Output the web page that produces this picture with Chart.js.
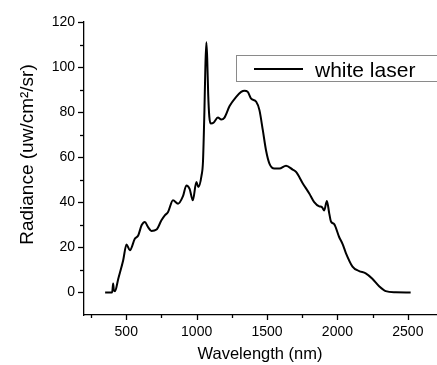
<!DOCTYPE html>
<html>
<head>
<meta charset="utf-8">
<script src="https://cdn.jsdelivr.net/npm/chart.js@4/dist/chart.umd.min.js"></script>
<style>
html,body{margin:0;padding:0;background:#fff;}
#wrap{width:437px;height:365px;position:relative;}
</style>
</head>
<body>
<div id="wrap"><canvas id="c" width="437" height="365"></canvas></div>
<script>
const wavelength = [350,400,407,412,420,443,478,502,526,561,585,609,632,655,679,715,750,774,797,832,868,903,927,950,973,998,1012,1035,1045,1055,1062,1069,1075,1082,1090,1100,1120,1151,1175,1198,1234,1281,1316,1340,1363,1387,1423,1446,1470,1493,1517,1552,1588,1635,1682,1706,1753,1800,1835,1871,1890,1906,1925,1942,1954,1977,2012,2036,2060,2107,2154,2201,2248,2296,2343,2414,2520];
const radiance = [0,0,4,1,0.5,6,14.2,21.3,18.7,23.8,25.3,29.8,31.3,29,27.3,27.9,32,34.2,35.7,40.9,39.4,42.7,47.5,46,40.9,49,46.8,52,58,80,100,111,104,88,78,75,75.3,77.6,76.7,77.6,82.7,86.8,89,89.5,89,86,84.6,80.9,72,63,57.2,55,55,56.2,54.5,53.5,48.5,43.9,40.1,38.2,37.9,36.4,40.6,35,31.5,30.3,24.6,21.6,17.5,11.5,9.5,8.5,6.1,2.8,0.6,0.1,0];
const xTicks = [500,1000,1500,2000,2500];
const yTicks = [0,20,40,60,80,100,120];
const seriesLabel = 'white laser';
const xTitle = 'Wavelength (nm)';
const yTitle = 'Radiance (uw/cm\u00B2/sr)';

const FONT = "'Liberation Sans', Arial, sans-serif";

const extras = {
  id: 'extras',
  afterDraw(chart) {
    const ctx = chart.ctx;
    const xs = chart.scales.x, ys = chart.scales.y;
    const area = chart.chartArea;
    ctx.save();
    ctx.strokeStyle = '#000';
    ctx.lineWidth = 1.3;
    for (let v = 0; v <= 120; v += 10) {
      const p = Math.round(ys.getPixelForValue(v)) + 0.5;
      const len = (v % 20 === 0) ? 6 : 4;
      ctx.beginPath();
      ctx.moveTo(area.left, p);
      ctx.lineTo(area.left - len, p);
      ctx.stroke();
    }
    for (let v = 250; v <= 2700; v += 250) {
      const p = Math.round(xs.getPixelForValue(v)) + 0.5;
      const len = (v % 500 === 0) ? 5 : 3;
      ctx.beginPath();
      ctx.moveTo(p, area.bottom);
      ctx.lineTo(p, area.bottom + len);
      ctx.stroke();
    }
    ctx.save();
    ctx.translate(28, 154.5);
    ctx.rotate(-Math.PI / 2);
    ctx.fillStyle = '#000';
    ctx.font = '19px ' + FONT;
    ctx.textAlign = 'center';
    ctx.textBaseline = 'middle';
    ctx.fillText(yTitle, 0, 0);
    ctx.restore();
    ctx.strokeStyle = '#8a8a8a';
    ctx.lineWidth = 1;
    ctx.strokeRect(236.5, 55.5, 210, 26);
    ctx.strokeStyle = '#000';
    ctx.lineWidth = 2;
    ctx.beginPath();
    ctx.moveTo(254, 69);
    ctx.lineTo(303, 69);
    ctx.stroke();
    ctx.fillStyle = '#000';
    ctx.font = '21px ' + FONT;
    ctx.textAlign = 'left';
    ctx.textBaseline = 'alphabetic';
    ctx.fillText(chart.data.datasets[0].label, 315, 76.5);
    ctx.restore();
  }
};

new Chart(document.getElementById('c'), {
  type: 'line',
  data: {
    datasets: [{
      label: seriesLabel,
      data: wavelength.map((w, i) => ({x: w, y: radiance[i]})),
      borderColor: '#000',
      borderWidth: 2,
      pointRadius: 0,
      fill: false,
      cubicInterpolationMode: 'monotone'
    }]
  },
  options: {
    responsive: false,
    animation: false,
    devicePixelRatio: 1,
    layout: {padding: {top: 22, right: 1, left: 0, bottom: 0}},
    plugins: {legend: {display: false}, tooltip: {enabled: false}},
    scales: {
      x: {
        type: 'linear',
        min: 200, max: 2700,
        afterBuildTicks: s => { s.ticks = xTicks.map(v => ({value: v})); },
        afterFit: s => { s.height = 50; },
        grid: {drawOnChartArea: false, drawTicks: true, tickLength: 5, tickColor: 'rgba(0,0,0,0)'},
        border: {display: true, color: '#000', width: 1.3},
        ticks: {color: '#000', font: {size: 14, family: FONT}, padding: 4, maxRotation: 0, callback: v => String(v)},
        title: {display: true, text: xTitle, color: '#000', font: {size: 16.5, family: FONT}, padding: {top: 4, bottom: 1}}
      },
      y: {
        type: 'linear',
        min: -10, max: 120,
        afterBuildTicks: s => { s.ticks = yTicks.map(v => ({value: v})); },
        afterFit: s => { s.width = 84; },
        grid: {drawOnChartArea: false, drawTicks: true, tickLength: 6, tickColor: 'rgba(0,0,0,0)'},
        border: {display: true, color: '#000', width: 1.3},
        ticks: {color: '#000', font: {size: 14, family: FONT}, padding: 3, callback: v => String(v)}
      }
    }
  },
  plugins: [extras]
});
</script>
</body>
</html>
